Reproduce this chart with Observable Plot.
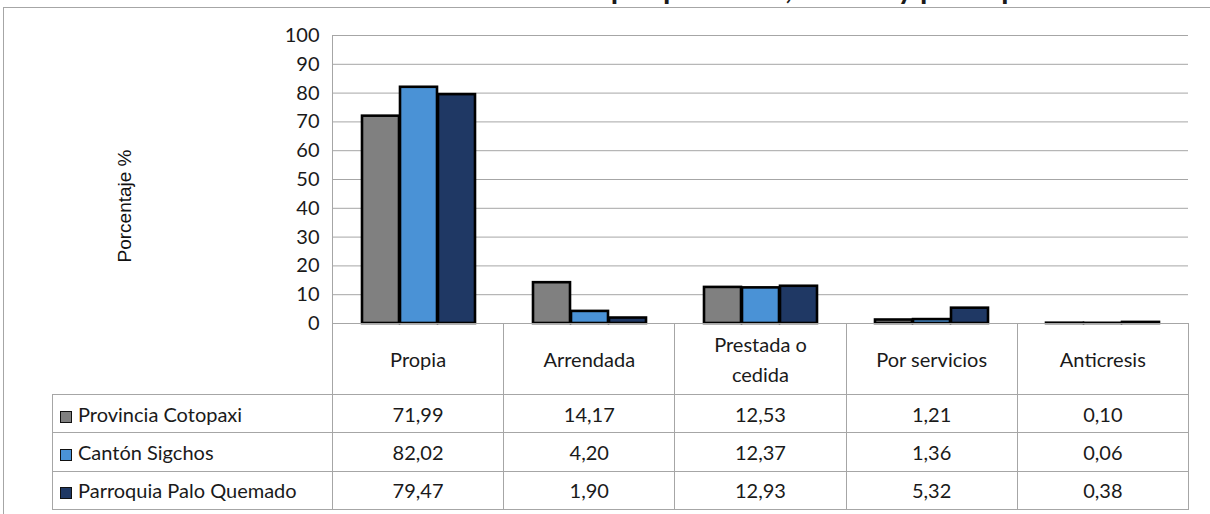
<!DOCTYPE html>
<html><head><meta charset="utf-8">
<script src="https://cdn.jsdelivr.net/npm/d3@7"></script>
<script src="https://cdn.jsdelivr.net/npm/@observablehq/plot@0.6"></script>
<style>
body{margin:0;background:#fff;}
#wrap{position:relative;width:1210px;height:514px;overflow:hidden;font-family:Lato,"Open Sans",sans-serif;color:#1a1a1a;}
#frame{position:absolute;left:3px;top:7px;width:1220px;height:600px;border-left:1px solid #a6a6a6;border-top:1px solid #a6a6a6;}
#title{position:absolute;left:0;width:1210px;top:-31px;text-align:center;font-weight:bold;font-size:30px;line-height:36px;white-space:nowrap;}
#chart{position:absolute;left:0;top:0;}
#ylab{position:absolute;left:125px;top:206px;transform:translate(-50%,-50%) rotate(-90deg);font-family:"Liberation Sans",Arial,sans-serif;font-size:19px;white-space:nowrap;color:#111;}
#vline{position:absolute;left:332px;top:35px;width:1px;height:289px;background:#a6a6a6;}
table{position:absolute;left:52px;top:323px;border-collapse:collapse;table-layout:fixed;font-size:20px;}
td{border:1px solid #a6a6a6;text-align:center;padding:0;line-height:30px;}
td.lab{text-align:left;padding-left:7px;white-space:nowrap;}
.sw{display:inline-block;width:10px;height:10px;border:1.5px solid #111;margin-right:6px;vertical-align:-1px;}
</style></head><body><div id="wrap"><div id="frame"></div><div id="title"></div><div id="chart"></div><div id="vline"></div><div id="ylab"></div></div>
<script>
const title = "Gráfico 5. Tenencia de la vivienda por provincia, cantón y parroquia";
const yLabel = "Porcentaje %";
const categories = ["Propia", "Arrendada", "Prestada o cedida", "Por servicios", "Anticresis"];
const categoryLabels = ["Propia", "Arrendada", "Prestada o<br>cedida", "Por servicios", "Anticresis"];
const series = ["Provincia Cotopaxi", "Cantón Sigchos", "Parroquia Palo Quemado"];
const cotopaxi = [71.99, 14.17, 12.53, 1.21, 0.10];
const sigchos = [82.02, 4.20, 12.37, 1.36, 0.06];
const paloQuemado = [79.47, 1.90, 12.93, 5.32, 0.38];
const colors = ["#808080", "#4a92d6", "#1f3864"];
const yTicks = [0, 10, 20, 30, 40, 50, 60, 70, 80, 90, 100];

const values = [cotopaxi, sigchos, paloQuemado];
const data = series.flatMap((s, i) => categories.map((c, j) => ({series: s, category: c, value: values[i][j]})));
const fmt = v => v.toFixed(2).replace(".", ",");

document.getElementById("title").textContent = title;
document.getElementById("ylab").textContent = yLabel;

const chart = Plot.plot({
  width: 1210, height: 324,
  marginLeft: 332, marginRight: 22, marginTop: 35, marginBottom: 1,
  style: {fontFamily: "Lato, sans-serif", fontSize: "20px", color: "#1a1a1a", background: "transparent", overflow: "visible"},
  fx: {domain: categories, padding: 0, axis: null},
  x: {domain: series, axis: null, paddingInner: 0.02, paddingOuter: 0.72},
  y: {domain: [0, 100], ticks: yTicks, tickSize: 0, tickPadding: 14, label: null},
  color: {domain: series, range: colors},
  marks: [
    Plot.gridY(yTicks, {stroke: "#a6a6a6", strokeOpacity: 1, strokeWidth: 1}),
    Plot.barY(data, {fx: "category", x: "series", y: "value", fill: "series", stroke: "#000", strokeWidth: 2.6})
  ]
});
document.getElementById("chart").appendChild(chart);

// data table
const table = document.createElement("table");
const colW = [280, ...categories.map(() => 171.2)];
const cg = document.createElement("colgroup");
colW.forEach(w => { const c = document.createElement("col"); c.style.width = w + "px"; cg.appendChild(c); });
table.appendChild(cg);
const head = document.createElement("tr");
head.style.height = "71px";
const h0 = document.createElement("td");
h0.style.border = "none";
h0.style.borderRight = "1px solid #a6a6a6";
head.appendChild(h0);
categoryLabels.forEach(l => { const td = document.createElement("td"); td.innerHTML = l; head.appendChild(td); });
table.appendChild(head);
series.forEach((s, i) => {
  const tr = document.createElement("tr");
  tr.style.height = "38.3px";
  const td0 = document.createElement("td");
  td0.className = "lab";
  td0.innerHTML = `<span class="sw" style="background:${colors[i]}"></span>${s}`;
  tr.appendChild(td0);
  values[i].forEach(v => { const td = document.createElement("td"); td.textContent = fmt(v); tr.appendChild(td); });
  table.appendChild(tr);
});
document.getElementById("wrap").appendChild(table);
</script></body></html>
